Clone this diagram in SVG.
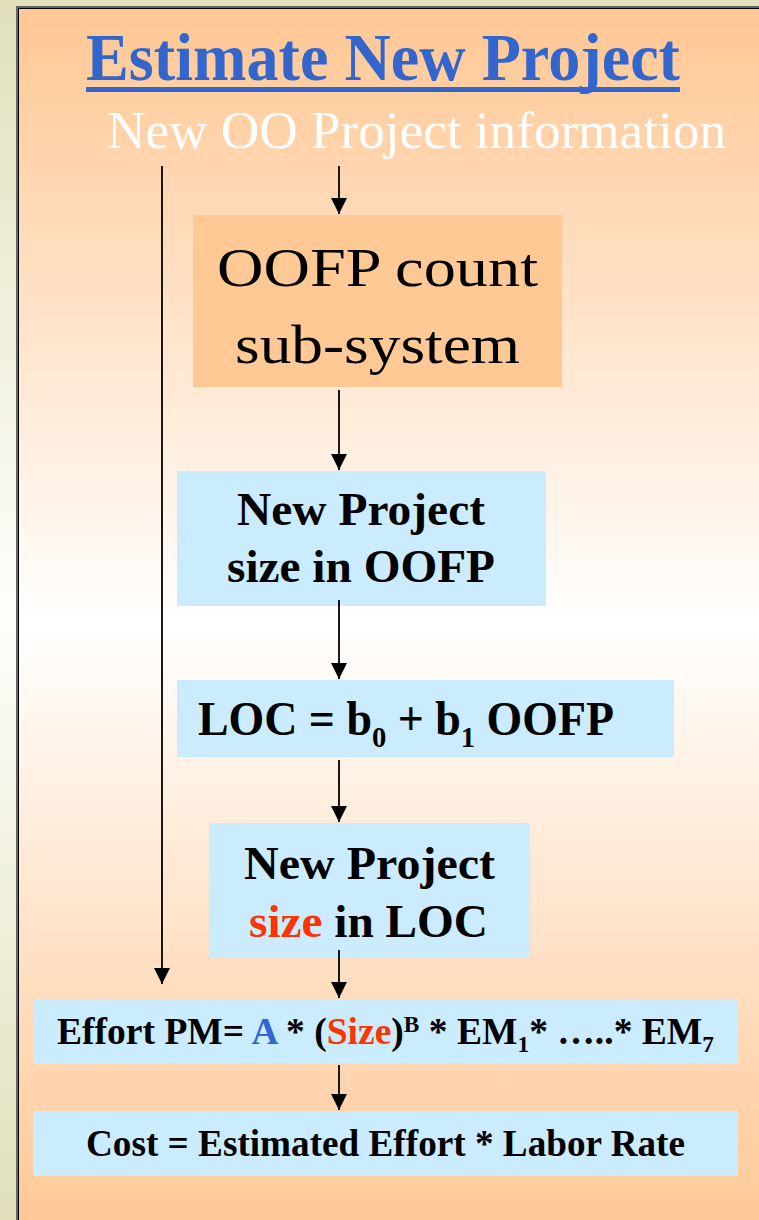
<svg xmlns="http://www.w3.org/2000/svg" width="759" height="1220" viewBox="0 0 759 1220">
<defs>
<linearGradient id="bgOuter" x1="0" y1="0" x2="0" y2="1">
<stop offset="0" stop-color="#e1e0bb"/>
<stop offset="0.5" stop-color="#fefefb"/>
<stop offset="1" stop-color="#e1e0bb"/>
</linearGradient>
<linearGradient id="bgPanel" x1="0" y1="0" x2="0" y2="1">
<stop offset="0" stop-color="#ffc794"/>
<stop offset="0.5" stop-color="#ffffff"/>
<stop offset="1" stop-color="#ffc794"/>
</linearGradient>
<marker id="arr" viewBox="0 0 16 16" markerWidth="16" markerHeight="16" refX="16" refY="8" orient="auto" markerUnits="userSpaceOnUse">
<path d="M0,0 L16,8 L0,16 Z" fill="#000"/>
</marker>
<style>
text{font-family:'Liberation Serif','Times New Roman',Times,serif;}
.b{font-weight:bold;}
.orange{fill:#ffc995;}
.blue{fill:#cbebff;}
.conn line{stroke:#000;stroke-width:1.8;}
</style>
</defs>
<rect x="0" y="0" width="759" height="1220" fill="url(#bgOuter)"/>
<rect x="16" y="6" width="760" height="1230" fill="#666"/>
<rect x="18" y="8" width="760" height="1230" fill="#000"/>
<rect x="19" y="9" width="760" height="1230" fill="url(#bgPanel)"/>

<g id="title" font-family="Liberation Serif, serif">
<text x="86" y="80" font-size="68" font-weight="bold" fill="#3366cc" textLength="594" lengthAdjust="spacingAndGlyphs">Estimate New Project</text>
<rect x="86" y="87" width="594" height="5" fill="#3366cc"/>
</g>
<g id="info" font-family="Liberation Serif, serif">
<text x="107" y="148" font-size="53" fill="#ffffff" textLength="619" lengthAdjust="spacingAndGlyphs">New OO Project information</text>
</g>

<g id="oofp-count" font-family="Liberation Serif, serif">
<rect class="orange" x="193" y="215" width="369" height="172"/>
<text x="217" y="286" font-size="54" fill="#000" textLength="321" lengthAdjust="spacingAndGlyphs">OOFP count</text>
<text x="235" y="363" font-size="54" fill="#000" textLength="285" lengthAdjust="spacingAndGlyphs">sub-system</text>
</g>

<g id="size-oofp" font-family="Liberation Serif, serif">
<rect class="blue" x="177" y="471" width="369" height="135"/>
<text class="b" x="237" y="525" font-size="47" fill="#000" textLength="248" lengthAdjust="spacingAndGlyphs">New Project</text>
<text class="b" x="227" y="582" font-size="47" fill="#000" textLength="268" lengthAdjust="spacingAndGlyphs">size in OOFP</text>
</g>

<g id="loc-formula" font-family="Liberation Serif, serif">
<rect class="blue" x="177" y="680" width="497" height="77"/>
<text class="b" x="198" y="735" font-size="48" fill="#000" textLength="416" lengthAdjust="spacingAndGlyphs">LOC = b<tspan font-size="30" dy="12">0</tspan><tspan dy="-12"> + b</tspan><tspan font-size="30" dy="12">1</tspan><tspan dy="-12"> OOFP</tspan></text>
</g>

<g id="size-loc" font-family="Liberation Serif, serif">
<rect class="blue" x="209" y="823" width="321" height="135"/>
<text class="b" x="244" y="879" font-size="47" fill="#000" textLength="251" lengthAdjust="spacingAndGlyphs">New Project</text>
<text class="b" x="249" y="937" font-size="47" fill="#000" textLength="239" lengthAdjust="spacingAndGlyphs"><tspan fill="#ff3300">size</tspan> in LOC</text>
</g>

<g id="effort" font-family="Liberation Serif, serif">
<rect class="blue" x="33" y="999" width="705" height="64"/>
<text class="b" x="57" y="1044" font-size="37" fill="#000" textLength="657" lengthAdjust="spacingAndGlyphs">Effort PM= <tspan fill="#3366cc">A</tspan> * (<tspan fill="#ff3300">Size</tspan>)<tspan font-size="23" dy="-12">B</tspan><tspan dy="12"> * EM</tspan><tspan font-size="23" dy="8">1</tspan><tspan dy="-8">* …..* EM</tspan><tspan font-size="23" dy="8">7</tspan></text>
</g>

<g id="cost" font-family="Liberation Serif, serif">
<rect class="blue" x="33" y="1111" width="705" height="65"/>
<text class="b" x="86" y="1156" font-size="37" fill="#000" textLength="599" lengthAdjust="spacingAndGlyphs">Cost = Estimated Effort * Labor Rate</text>
</g>

<g id="connectors" class="conn">
<line x1="162" y1="166" x2="162" y2="984" marker-end="url(#arr)"/>
<line x1="339" y1="166" x2="339" y2="214" marker-end="url(#arr)"/>
<line x1="339" y1="390" x2="339" y2="470" marker-end="url(#arr)"/>
<line x1="339" y1="600" x2="339" y2="679" marker-end="url(#arr)"/>
<line x1="339" y1="760" x2="339" y2="822" marker-end="url(#arr)"/>
<line x1="339" y1="950" x2="339" y2="998" marker-end="url(#arr)"/>
<line x1="339" y1="1065" x2="339" y2="1110" marker-end="url(#arr)"/>
</g>
</svg>
